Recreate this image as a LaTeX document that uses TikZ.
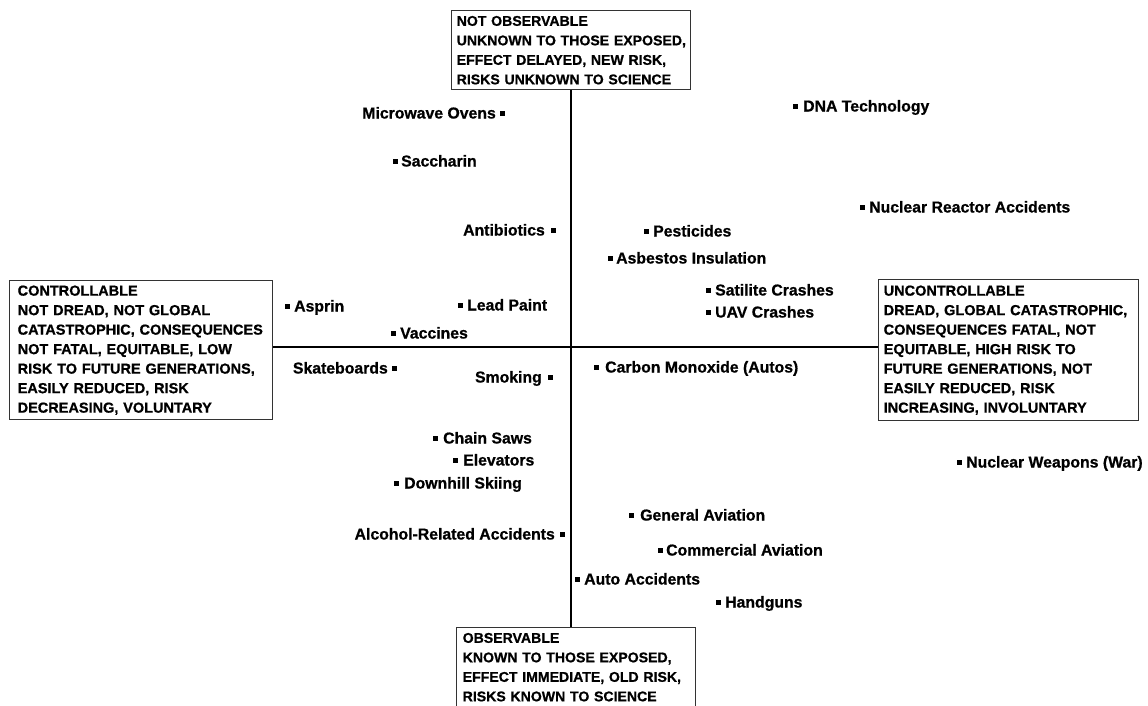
\documentclass[tikz,border=0pt]{standalone}
\usepackage{fontspec}
\setmainfont{Liberation Sans}[BoldFeatures={FakeBold=0.8}]
\newcommand\bxl[1]{\mbox{#1}}
\begin{document}
\begin{tikzpicture}[x=1pt,y=-1pt,
  box/.style={draw=black!80,line width=1.4pt,anchor=north west,align=left,inner ysep=0pt,
    font=\fontsize{14.5}{19.5}\selectfont\bfseries},
  smallbox/.style={box,font=\fontsize{14.1}{19.5}\selectfont\bfseries},
  axis/.style={line width=2.8pt,black},
  lbl/.style={inner sep=0pt,font=\fontsize{15.8}{18}\selectfont\bfseries},
  dot/.style={fill=black,inner sep=0pt,minimum size=5pt,draw=none}]
\useasboundingbox (0,0) rectangle (1148,705);
\fill[white] (0,0) rectangle (1148,705);
% boxes
\node[smallbox,minimum width=239pt,minimum height=79pt,inner xsep=5pt,text width=229pt] (top) at (451,10)
 {\bxl{NOT OBSERVABLE}\\\bxl{UNKNOWN TO THOSE EXPOSED,}\\\bxl{EFFECT DELAYED, NEW RISK,}\\\bxl{RISKS UNKNOWN TO SCIENCE}};
\node[box,minimum width=263pt,minimum height=139pt,inner xsep=8pt,text width=247pt] (left) at (9,280)
 {\bxl{CONTROLLABLE}\\\bxl{NOT DREAD, NOT GLOBAL}\\\bxl{CATASTROPHIC, CONSEQUENCES}\\\bxl{NOT FATAL, EQUITABLE, LOW}\\\bxl{RISK TO FUTURE GENERATIONS,}\\\bxl{EASILY REDUCED, RISK}\\\bxl{DECREASING, VOLUNTARY}};
\node[box,minimum width=260pt,minimum height=141pt,inner xsep=5pt,text width=250pt] (right) at (878,279)
 {\bxl{UNCONTROLLABLE}\\\bxl{DREAD, GLOBAL CATASTROPHIC,}\\\bxl{CONSEQUENCES FATAL, NOT}\\\bxl{EQUITABLE, HIGH RISK TO}\\\bxl{FUTURE GENERATIONS, NOT}\\\bxl{EASILY REDUCED, RISK}\\\bxl{INCREASING, INVOLUNTARY}};
\node[smallbox,minimum width=239pt,minimum height=79pt,inner xsep=6pt,text width=227pt] (bot) at (456,627)
 {\bxl{OBSERVABLE}\\\bxl{KNOWN TO THOSE EXPOSED,}\\\bxl{EFFECT IMMEDIATE, OLD RISK,}\\\bxl{RISKS KNOWN TO SCIENCE}};
% axes
\coordinate (o) at (571,347);
\draw[axis] (top.south -| o) -- (bot.north -| o);
\draw[axis] (left.east |- o) -- (right.west |- o);
% items
\node[lbl,anchor=base east] (micro) at (496,118.5) {Microwave Ovens};
\node[dot] (dmicro) at (502,113) {};
\node[dot] (dsacc) at (395,161) {};
\node[lbl,anchor=base west] (sacc) at (401,166.5) {Saccharin};
\node[lbl,anchor=base east] (anti) at (545,235.5) {Antibiotics};
\node[dot] (danti) at (553,230) {};
\node[dot] (dpest) at (646,231) {};
\node[lbl,anchor=base west] (pest) at (653,236.5) {Pesticides};
\node[dot] (dasb) at (610,258) {};
\node[lbl,anchor=base west] (asb) at (616,263.5) {Asbestos Insulation};
\node[dot] (dsat) at (708,290) {};
\node[lbl,anchor=base west] (sat) at (715,295.5) {Satilite Crashes};
\node[dot] (duav) at (708,312) {};
\node[lbl,anchor=base west] (uav) at (715,317.5) {UAV Crashes};
\node[dot] (dasp) at (287,306) {};
\node[lbl,anchor=base west] (asp) at (294,311.5) {Asprin};
\node[dot] (dlead) at (460,305) {};
\node[lbl,anchor=base west] (lead) at (467,310.5) {Lead Paint};
\node[dot] (dvac) at (393,333) {};
\node[lbl,anchor=base west] (vac) at (400,338.5) {Vaccines};
\node[dot] (ddna) at (795,106) {};
\node[lbl,anchor=base west] (dna) at (803,111.5) {DNA Technology};
\node[dot] (dnra) at (862,207) {};
\node[lbl,anchor=base west] (nra) at (869,212.5) {Nuclear Reactor Accidents};
\node[lbl,anchor=base east] (skate) at (388,373.5) {Skateboards};
\node[dot] (dskate) at (394,368) {};
\node[lbl,anchor=base east] (smok) at (542,382.5) {Smoking};
\node[dot] (dsmok) at (550,377) {};
\node[dot] (dco) at (596,367) {};
\node[lbl,anchor=base west] (co) at (605,372.5) {Carbon Monoxide (Autos)};
\node[dot] (dchain) at (435,438) {};
\node[lbl,anchor=base west] (chain) at (443,443.5) {Chain Saws};
\node[dot] (delev) at (455,460) {};
\node[lbl,anchor=base west] (elev) at (463,465.5) {Elevators};
\node[dot] (dski) at (396,483) {};
\node[lbl,anchor=base west] (ski) at (404,488.5) {Downhill Skiing};
\node[lbl,anchor=base east] (alc) at (555,539.5) {Alcohol-Related Accidents};
\node[dot] (dalc) at (562,534) {};
\node[dot] (dgen) at (631,515) {};
\node[lbl,anchor=base west] (gen) at (640,520.5) {General Aviation};
\node[dot] (dcom) at (660,550) {};
\node[lbl,anchor=base west] (com) at (666,555.5) {Commercial Aviation};
\node[dot] (dauto) at (577,579) {};
\node[lbl,anchor=base west] (auto) at (584,584.5) {Auto Accidents};
\node[dot] (dhand) at (718,602) {};
\node[lbl,anchor=base west] (hand) at (725,607.5) {Handguns};
\node[dot] (dnw) at (959,462) {};
\node[lbl,anchor=base west] (nw) at (966,467.5) {Nuclear Weapons (War)};
\end{tikzpicture}
\end{document}
